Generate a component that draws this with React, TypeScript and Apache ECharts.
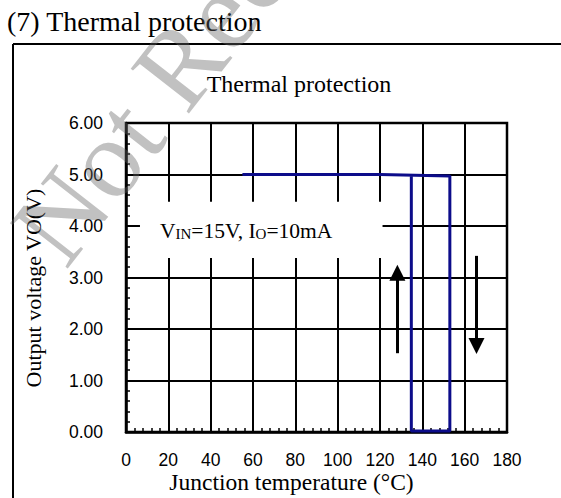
import React, { useEffect, useRef } from 'react';
import * as echarts from 'echarts';

// Hysteresis curve of output voltage vs junction temperature
const curveTemp = [55, 120, 153, 153, 134.8, 134.8];
const curveVolt = [5.0, 5.0, 4.97, 0.02, 0.02, 4.97];

// Direction arrows: [temperature, from voltage, to voltage]
const upArrow = [128.2, 1.53, 3.09];
const downArrow = [165.6, 3.42, 1.67];

// Note box (white background) corners [temp, volt]
const noteBoxFrom = [6.6, 4.47];
const noteBoxTo = [121.2, 3.38];

const xMin = 0, xMax = 180, xStep = 20;
const yMin = 0, yMax = 6, yStep = 1;

const titleText = '(7) Thermal protection';
const chartTitle = 'Thermal protection';
const xName = 'Junction temperature (°C)';
const yName = 'Output voltage VO(V)';
const watermark = 'Not Recommended';

export default function App() {
  const ref = useRef<HTMLDivElement>(null);
  useEffect(() => {
    if (!ref.current) return;
    const chart = echarts.init(ref.current, null, { renderer: 'svg' });
    const serif = '"Liberation Serif", "Times New Roman", serif';
    const sans = '"Liberation Sans", Arial, sans-serif';
    const option: any = {
      animation: false,
      backgroundColor: '#fff',
      grid: {
        left: 126, top: 123, right: 54, bottom: 66,
        show: true, borderColor: '#000', borderWidth: 2.5, backgroundColor: 'transparent',
      },
      xAxis: {
        type: 'value', min: xMin, max: xMax, interval: xStep,
        axisLine: { show: true, lineStyle: { color: '#000', width: 2.5 } },
        axisTick: { show: false, inside: true },
        minorTick: { show: true, splitNumber: 5, length: 4, lineStyle: { color: '#000', width: 1.5 } },
        splitLine: { show: true, lineStyle: { color: '#000', width: 2 } },
        axisLabel: { color: '#000', fontFamily: sans, fontSize: 17.5, margin: 19 },
      },
      yAxis: {
        type: 'value', min: yMin, max: yMax, interval: yStep,
        axisLine: { show: true, lineStyle: { color: '#000', width: 2.5 } },
        axisTick: { show: false, inside: true },
        minorTick: { show: true, splitNumber: 5, length: 4, lineStyle: { color: '#000', width: 1.5 } },
        splitLine: { show: true, lineStyle: { color: '#000', width: 2 } },
        axisLabel: {
          color: '#000', fontFamily: sans, fontSize: 17.5, margin: 23,
          formatter: (v: number) => v.toFixed(2),
        },
      },
      series: [
        {
          type: 'line',
          data: curveTemp.map((t, i) => [t, curveVolt[i]]),
          showSymbol: false,
          symbol: 'none',
          lineStyle: { color: '#0c0c8a', width: 3 },
          z: 3,
          silent: true,
          markArea: {
            silent: true,
            itemStyle: { color: '#fff' },
            label: {
              show: true,
              position: 'insideLeft',
              distance: 20,
              formatter: '{a|V}{s|IN}{a|=15V, I}{s|O}{a|=10mA}',
              rich: {
                a: { fontFamily: serif, fontSize: 21.5, color: '#000', verticalAlign: 'bottom', lineHeight: 24 },
                s: { fontFamily: serif, fontSize: 15, color: '#000', verticalAlign: 'bottom', lineHeight: 22 },
              },
            },
            data: [[
              { xAxis: noteBoxFrom[0], yAxis: noteBoxFrom[1] },
              { xAxis: noteBoxTo[0], yAxis: noteBoxTo[1] },
            ]],
          },
          markLine: {
            silent: true,
            symbol: ['none', 'triangle'],
            symbolSize: 16,
            label: { show: false },
            lineStyle: { color: '#000', width: 3, type: 'solid' },
            itemStyle: { color: '#000' },
            data: [
              [{ coord: [upArrow[0], upArrow[1]] }, { coord: [upArrow[0], upArrow[2]] }],
              [{ coord: [downArrow[0], downArrow[1]] }, { coord: [downArrow[0], downArrow[2]] }],
            ],
          },
        },
      ],
      graphic: [
        { type: 'line', shape: { x1: 13, y1: 44, x2: 561, y2: 44 }, style: { stroke: '#000', lineWidth: 2 } },
        { type: 'line', shape: { x1: 13, y1: 44, x2: 13, y2: 498 }, style: { stroke: '#000', lineWidth: 2 } },
        {
          type: 'text', x: 7, y: 21,
          style: { text: titleText, font: `28px ${serif}`, fill: '#000', textAlign: 'left', textVerticalAlign: 'middle' },
        },
        {
          type: 'text', x: 299, y: 84,
          style: { text: chartTitle, font: `24px ${serif}`, fill: '#000', textAlign: 'center', textVerticalAlign: 'middle' },
        },
        {
          type: 'text', x: 291.5, y: 482,
          style: { text: xName, font: `23.5px ${serif}`, fill: '#000', textAlign: 'center', textVerticalAlign: 'middle' },
        },
        {
          type: 'text', x: 33, y: 288, rotation: Math.PI / 2,
          style: { text: yName, font: `22px ${serif}`, fill: '#000', textAlign: 'center', textVerticalAlign: 'middle' },
        },
        {
          type: 'text', x: 80, y: 282, rotation: (52 * Math.PI) / 180, z: 100,
          style: { text: watermark, font: `112px ${serif}`, fill: 'rgba(100,100,100,0.4)', textAlign: 'left', textVerticalAlign: 'bottom' },
        },
      ],
    };
    chart.setOption(option);
    return () => chart.dispose();
  }, []);
  return <div ref={ref} style={{ position: 'absolute', left: 0, top: 0, width: 561, height: 498 }} />;
}
